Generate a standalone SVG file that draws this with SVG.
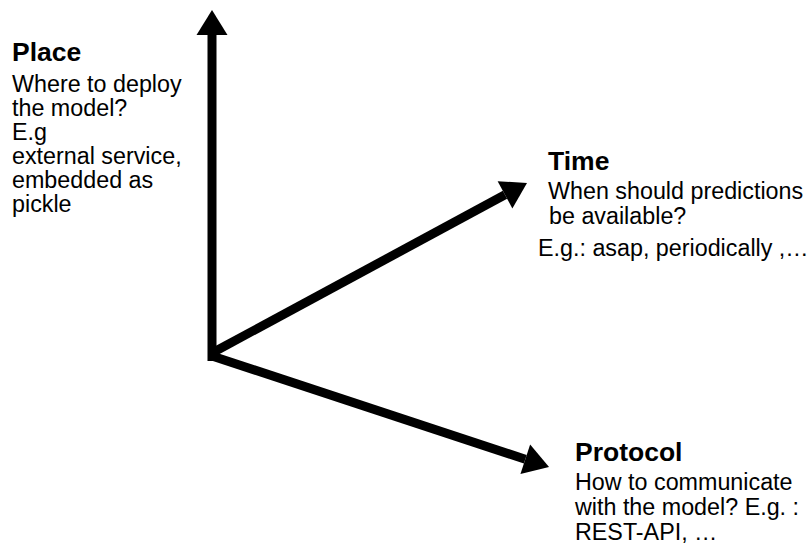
<svg xmlns="http://www.w3.org/2000/svg" width="809" height="550" viewBox="0 0 809 550">
  <style>
    .axis { stroke: #000; stroke-width: 9; fill: none; stroke-linecap: butt; }
    .title { font-family: "Liberation Sans", Arial, sans-serif; font-weight: bold; font-size: 26.5px; fill: #000; }
    .body { font-family: "Liberation Sans", Arial, sans-serif; font-size: 23.3px; fill: #000; }
  </style>
  <defs>
    <marker id="head" markerUnits="userSpaceOnUse" markerWidth="26" markerHeight="32" refX="0" refY="15.5" orient="auto" overflow="visible">
      <path d="M0,0 L25,15.5 L0,31 Z" fill="#000"/>
    </marker>
  </defs>
  <rect width="809" height="550" fill="#fff"/>

  <!-- three axes from a common origin -->
  <g id="connectors">
    <line class="axis" x1="212" y1="361" x2="212" y2="35" marker-end="url(#head)"/>
    <line class="axis" x1="212" y1="353" x2="505" y2="194.8" marker-end="url(#head)"/>
    <line class="axis" x1="212" y1="356" x2="525.3" y2="459.2" marker-end="url(#head)"/>
  </g>

  <g id="place">
    <text class="title" x="12" y="61">Place</text>
    <text class="body" x="12" y="92">Where to deploy</text>
    <text class="body" x="12" y="116">the model?</text>
    <text class="body" x="12" y="140">E.g</text>
    <text class="body" x="12" y="164">external service,</text>
    <text class="body" x="12" y="188">embedded as</text>
    <text class="body" x="12" y="212">pickle</text>
  </g>

  <g id="time">
    <text class="title" x="548" y="170">Time</text>
    <text class="body" x="548" y="199">When should predictions</text>
    <text class="body" x="549" y="224">be available?</text>
    <text class="body" x="538" y="256">E.g.: asap, periodically ,…</text>
  </g>

  <g id="protocol">
    <text class="title" x="575" y="461">Protocol</text>
    <text class="body" x="575" y="490">How to communicate</text>
    <text class="body" x="575" y="515">with the model? E.g. :</text>
    <text class="body" x="575" y="540">REST-API, …</text>
  </g>
</svg>
